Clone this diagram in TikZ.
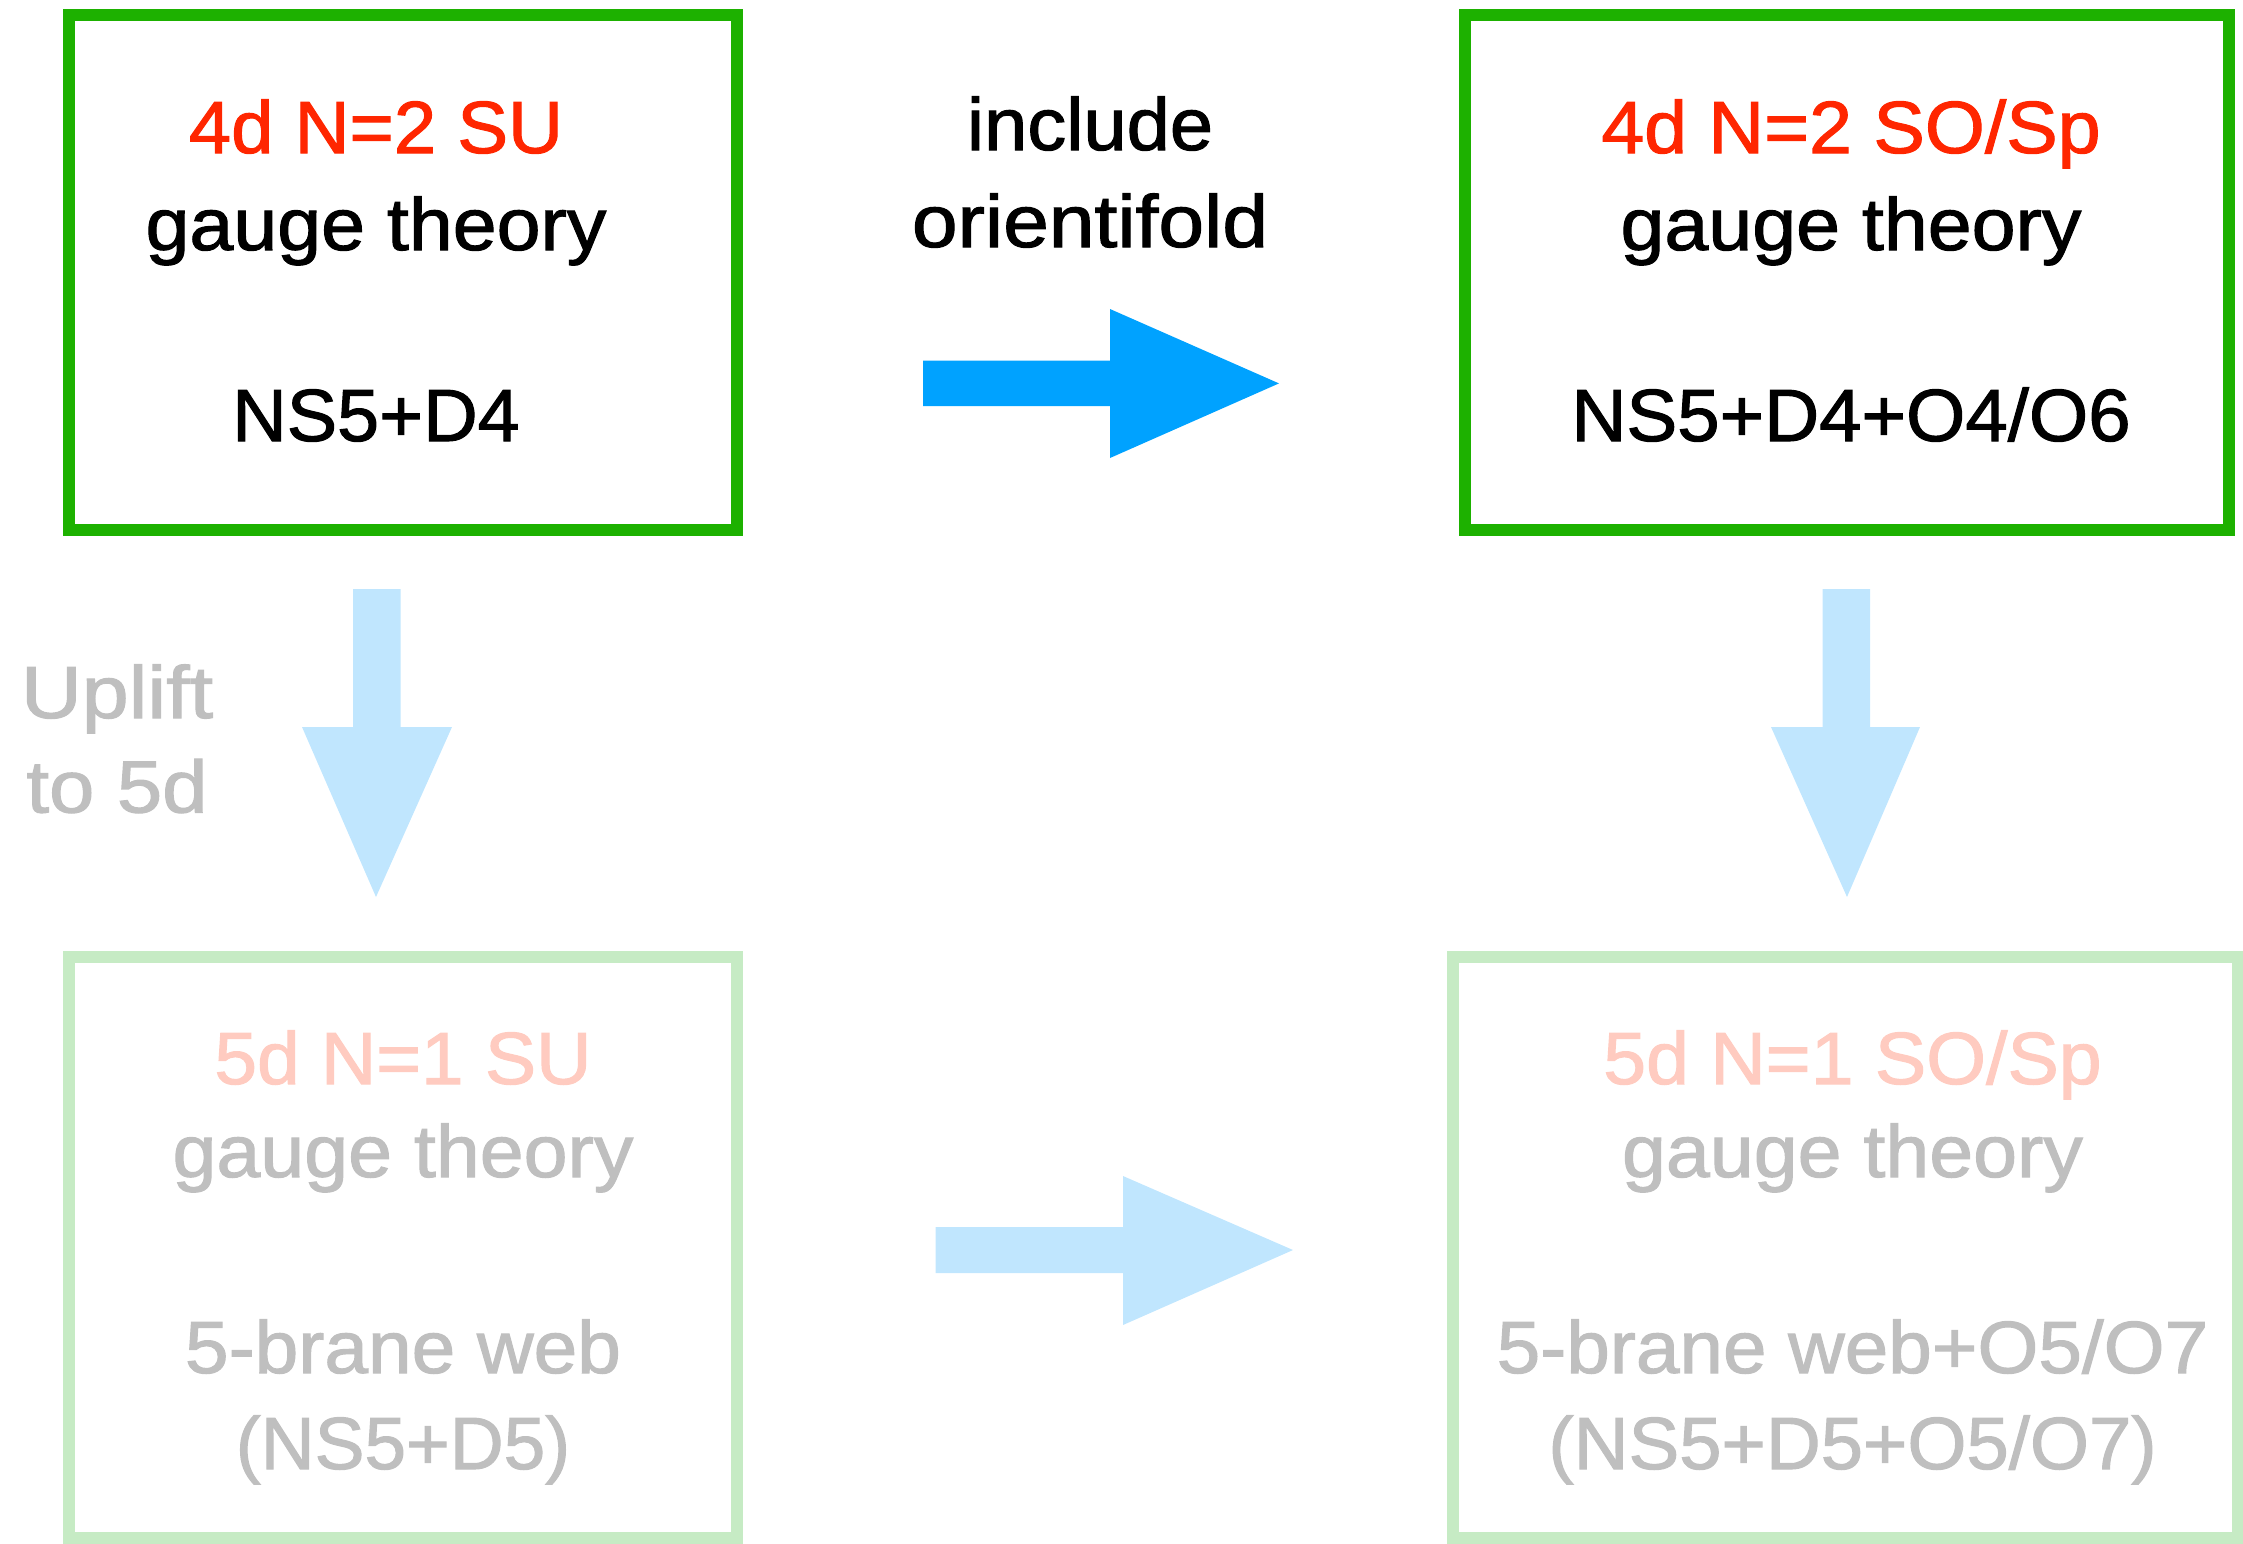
\documentclass[tikz,border=0pt]{standalone}
\usepackage{fontspec}
\setmainfont{Liberation Sans}[FakeBold=1.4]
\definecolor{boxgreen}{HTML}{1DB100}
\definecolor{fadegreen}{HTML}{C6EBC4}
\definecolor{titlered}{HTML}{FF2600}
\definecolor{fadered}{HTML}{FFCBC0}
\definecolor{fadegray}{HTML}{BFBFBF}
\definecolor{arrowblue}{HTML}{00A2FF}
\definecolor{fadeblue}{HTML}{C0E6FE}
\newcommand{\sx}[2]{\scalebox{#1}[1]{#2}}
\begin{document}
\begin{tikzpicture}[x=0.5pt,y=-0.5pt,
  boxframe/.style={draw=#1, line width=6pt, inner sep=0pt, rectangle},
  lbl/.style={anchor=base, inner sep=0pt, font=\fontsize{37}{44}\selectfont},
]
\useasboundingbox (0,0) rectangle (2243,1543);

% boxes
\node[boxframe=boxgreen, minimum width=334pt, minimum height=257.5pt] (tl) at (402.7,272.5) {};
\node[boxframe=boxgreen, minimum width=382pt, minimum height=257.5pt] (tr) at (1847,272.5) {};
\node[boxframe=fadegreen, minimum width=334pt, minimum height=290.5pt] (bl) at (402.7,1247.5) {};
\node[boxframe=fadegreen, minimum width=392.5pt, minimum height=290.5pt] (br) at (1845.5,1247.5) {};

% top-left text
\node[lbl, text=titlered] (tl1) at (376,153) {\sx{1.028}{4d N=2 SU}};
\node[lbl] (tl2) at (376,250) {\sx{1.067}{gauge theory}};
\node[lbl] (tl3) at (376,441) {\sx{1.02}{NS5+D4}};

% top-right text
\node[lbl, text=titlered] (tr1) at (1851,153) {\sx{1.042}{4d N=2 SO/Sp}};
\node[lbl] (tr2) at (1851,250) {\sx{1.067}{gauge theory}};
\node[lbl] (tr3) at (1851,441) {\sx{1.03}{NS5+D4+O4/O6}};

% middle label
\node[lbl] (inc1) at (1090,150) {\sx{1.05}{include}};
\node[lbl] (inc2) at (1090,247) {\sx{1.11}{orientifold}};

% uplift label
\node[lbl, text=fadegray] (up1) at (117,718) {\sx{1.14}{Uplift}};
\node[lbl, text=fadegray] (up2) at (117,812.5) {\sx{1.1}{to 5d}};

% bottom-left text
\node[lbl, text=fadered] (bl1) at (403,1084) {\sx{1.036}{5d N=1 SU}};
\node[lbl, text=fadegray] (bl2) at (403,1177) {\sx{1.067}{gauge theory}};
\node[lbl, text=fadegray] (bl3) at (403,1373) {\sx{1.06}{5-brane web}};
\node[lbl, text=fadegray] (bl4) at (403,1469) {\sx{1.01}{(NS5+D5)}};

% bottom-right text
\node[lbl, text=fadered] (br1) at (1852.5,1084) {\sx{1.04}{5d N=1 SO/Sp}};
\node[lbl, text=fadegray] (br2) at (1852.5,1177) {\sx{1.067}{gauge theory}};
\node[lbl, text=fadegray] (br3) at (1852.5,1373) {\sx{1.058}{5-brane web+O5/O7}};
\node[lbl, text=fadegray] (br4) at (1852.5,1469) {\sx{1.027}{(NS5+D5+O5/O7)}};

% block arrows
\fill[arrowblue] (923,360.5) -- (1110,360.5) -- (1110,309) -- (1279,383.4)
  -- (1110,458) -- (1110,406) -- (923,406) -- cycle;
\fill[fadeblue] (935.5,1227) -- (1123,1227) -- (1123,1176) -- (1293,1250)
  -- (1123,1325) -- (1123,1273) -- (935.5,1273) -- cycle;
\fill[fadeblue] (353,589) -- (400.5,589) -- (400.5,727) -- (452,727)
  -- (376,897) -- (302,727) -- (353,727) -- cycle;
\fill[fadeblue] (1822.5,589) -- (1870,589) -- (1870,727) -- (1920,727)
  -- (1847,897) -- (1771,727) -- (1822.5,727) -- cycle;
\end{tikzpicture}
\end{document}
